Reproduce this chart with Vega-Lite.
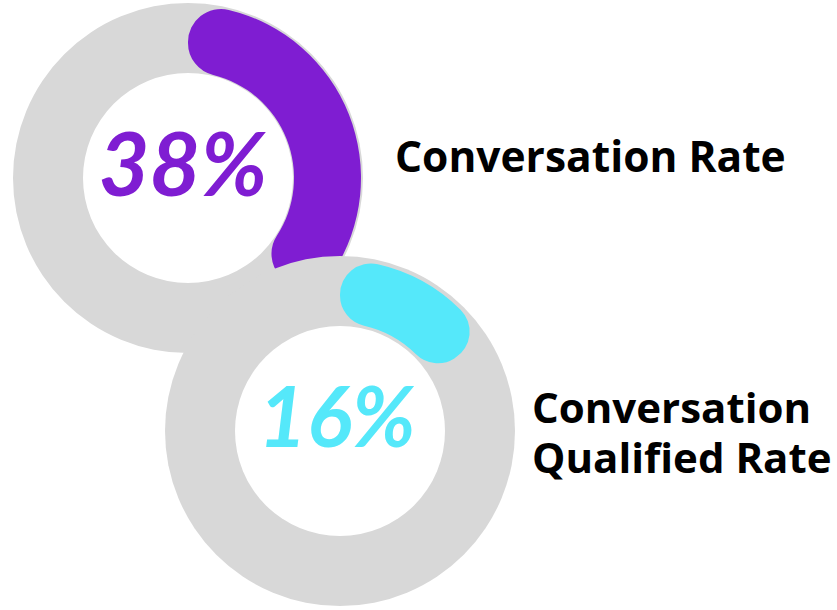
{
  "$schema": "https://vega.github.io/schema/vega-lite/v6.json",
  "width": 837,
  "height": 610,
  "autosize": {"type": "fit", "contains": "padding"},
  "padding": 0,
  "background": "white",
  "config": {"view": {"stroke": null}},
  "data": {
    "values": [
      {"metric": "Conversation Rate", "value": 38, "label": "38%", "line1": "Conversation Rate", "line2": ""},
      {"metric": "Conversation Qualified Rate", "value": 16, "label": "16%", "line1": "Conversation", "line2": "Qualified Rate"}
    ]
  },
  "encoding": {
    "x": {"field": "metric", "type": "nominal", "scale": {"type": "point", "domain": ["Conversation Rate", "Conversation Qualified Rate"], "range": [188, 340], "padding": 0}, "axis": null},
    "y": {"field": "metric", "type": "nominal", "scale": {"type": "point", "domain": ["Conversation Rate", "Conversation Qualified Rate"], "range": [178, 431], "padding": 0}, "axis": null}
  },
  "layer": [
    {
      "transform": [{"filter": "datum.metric === 'Conversation Rate'"}],
      "mark": {"type": "arc", "radius": 175, "radius2": 105, "theta": 0, "theta2": 6.2832, "color": "#d8d8d8"}
    },
    {
      "transform": [{"filter": "datum.metric === 'Conversation Rate'"}],
      "mark": {"type": "arc", "radius": 173, "radius2": 106, "cornerRadius": 33, "color": "#7f1dd2"},
      "encoding": {"theta": {"field": "value", "type": "quantitative", "scale": {"domain": [0, 100], "range": [0, 6.2832]}}}
    },
    {
      "transform": [{"filter": "datum.metric === 'Conversation Rate'"}],
      "mark": {"type": "text", "font": "Lato", "fontStyle": "italic", "fontWeight": "bold", "fontSize": 88, "color": "#7f1dd2", "align": "center", "baseline": "middle", "dx": -5, "dy": -8},
      "encoding": {"text": {"field": "label"}}
    },
    {
      "transform": [{"filter": "datum.metric === 'Conversation Rate'"}],
      "mark": {"type": "text", "font": "Open Sans", "fontWeight": "bold", "fontSize": 42.5, "color": "#000000", "align": "left", "baseline": "alphabetic", "dx": 207, "dy": -6},
      "encoding": {"text": {"field": "line1"}}
    },
    {
      "transform": [{"filter": "datum.metric === 'Conversation Qualified Rate'"}],
      "mark": {"type": "arc", "radius": 175, "radius2": 0, "theta": 0, "theta2": 6.2832, "color": "#d8d8d8"}
    },
    {
      "transform": [{"filter": "datum.metric === 'Conversation Qualified Rate'"}],
      "mark": {"type": "arc", "radius": 105, "radius2": 0, "theta": 0, "theta2": 6.2832, "color": "#ffffff"}
    },
    {
      "transform": [{"filter": "datum.metric === 'Conversation Qualified Rate'"}],
      "mark": {"type": "arc", "radius": 171, "radius2": 108, "cornerRadius": 31, "color": "#55e8fa"},
      "encoding": {"theta": {"field": "value", "type": "quantitative", "scale": {"domain": [0, 100], "range": [0, 6.2832]}}}
    },
    {
      "transform": [{"filter": "datum.metric === 'Conversation Qualified Rate'"}],
      "mark": {"type": "text", "font": "Lato", "fontStyle": "italic", "fontWeight": "bold", "fontSize": 84, "color": "#55e8fa", "align": "center", "baseline": "middle", "dx": -3, "dy": -9},
      "encoding": {"text": {"field": "label"}}
    },
    {
      "transform": [{"filter": "datum.metric === 'Conversation Qualified Rate'"}],
      "mark": {"type": "text", "font": "Open Sans", "fontWeight": "bold", "fontSize": 42, "color": "#000000", "align": "left", "baseline": "alphabetic", "dx": 192, "dy": -8},
      "encoding": {"text": {"field": "line1"}}
    },
    {
      "transform": [{"filter": "datum.metric === 'Conversation Qualified Rate'"}],
      "mark": {"type": "text", "font": "Open Sans", "fontWeight": "bold", "fontSize": 42, "color": "#000000", "align": "left", "baseline": "alphabetic", "dx": 192, "dy": 42},
      "encoding": {"text": {"field": "line2"}}
    }
  ]
}
